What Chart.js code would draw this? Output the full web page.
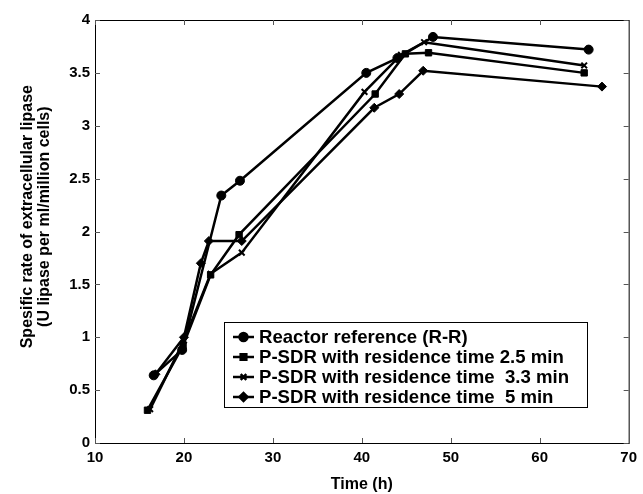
<!DOCTYPE html>
<html lang="en">
<head>
    <meta charset="UTF-8">
    <title>Lipase rate</title>
    <script src="https://cdn.jsdelivr.net/npm/chart.js"></script>
    <style>
        body { margin: 0; background: #fff; }
        #wrap { width: 643px; height: 494px; }
    </style>
</head>
<body>
    <div id="wrap"><canvas id="lipaseChart" width="643" height="494"></canvas></div>
    <script>
        // values: time (h) and specific rate
        const rrTime = [16.6, 19.8, 24.2, 26.3, 40.5, 44.0, 48.0, 65.5];
        const rrRate = [0.64, 0.88, 2.34, 2.48, 3.50, 3.64, 3.84, 3.72];

        const sdr25Time = [15.9, 19.9, 23.0, 26.2, 41.5, 44.9, 47.5, 65.0];
        const sdr25Rate = [0.31, 0.92, 1.59, 1.97, 3.30, 3.68, 3.69, 3.50];

        const sdr33Time = [16.2, 20.0, 23.0, 26.5, 40.3, 44.4, 47.0, 65.0];
        const sdr33Rate = [0.32, 0.97, 1.60, 1.80, 3.32, 3.67, 3.79, 3.57];

        const sdr5Time = [16.8, 20.0, 21.9, 22.8, 26.5, 41.4, 44.2, 46.9, 67.0];
        const sdr5Rate = [0.65, 1.00, 1.70, 1.91, 1.91, 3.17, 3.30, 3.52, 3.37];

        const seriesLabels = [
            "Reactor reference (R-R)",
            "P-SDR with residence time 2.5 min",
            "P-SDR with residence time  3.3 min",
            "P-SDR with residence time  5 min"
        ];
        const seriesMarkers = ["circle", "rect", "crossRot", "rectRot"];

        const xTicks = [10, 20, 30, 40, 50, 60, 70];
        const yTicks = [0, 0.5, 1, 1.5, 2, 2.5, 3, 3.5, 4];
        const yTitle = ["Spesific rate of extracellular lipase", "(U lipase per ml/million cells)"];

        const FONT = "'Liberation Sans', Arial, sans-serif";

        function pts(xs, ys) {
            return xs.map((x, i) => ({ x: x, y: ys[i] }));
        }

        const allSeries = [
            pts(rrTime, rrRate),
            pts(sdr25Time, sdr25Rate),
            pts(sdr33Time, sdr33Rate),
            pts(sdr5Time, sdr5Rate)
        ];

        const datasets = allSeries.map((d, i) => ({
            label: seriesLabels[i],
            data: d,
            borderColor: "#000",
            backgroundColor: "#000",
            borderWidth: 2.5,
            pointStyle: seriesMarkers[i],
            pointRadius: seriesMarkers[i] === "crossRot" ? 4 : 4.5,
            pointBorderWidth: seriesMarkers[i] === "crossRot" ? 2 : 1,
            tension: 0
        }));

        // box, inward ticks, y title and legend, matlab style
        const framePlugin = {
            id: "frame",
            afterDraw(chart) {
                const ctx = chart.ctx;
                const a = chart.chartArea;
                const xs = chart.scales.x, ys = chart.scales.y;
                ctx.save();
                ctx.strokeStyle = "#000";
                ctx.lineWidth = 1;
                ctx.strokeRect(a.left + 0.5, a.top + 0.5, a.right - a.left, a.bottom - a.top);
                ctx.strokeStyle = "#555";
                ctx.beginPath();
                xTicks.forEach(t => {
                    const px = Math.round(xs.getPixelForValue(t)) + 0.5;
                    ctx.moveTo(px, a.bottom); ctx.lineTo(px, a.bottom - 5);
                    ctx.moveTo(px, a.top); ctx.lineTo(px, a.top + 5);
                });
                yTicks.forEach(t => {
                    const py = Math.round(ys.getPixelForValue(t)) + 0.5;
                    ctx.moveTo(a.left, py); ctx.lineTo(a.left + 5, py);
                    ctx.moveTo(a.right, py); ctx.lineTo(a.right - 5, py);
                });
                ctx.stroke();

                // y title, sits a little above the middle like the original
                ctx.save();
                ctx.translate(0, ys.getPixelForValue(2.14));
                ctx.rotate(-Math.PI / 2);
                ctx.fillStyle = "#000";
                ctx.font = "bold 16px " + FONT;
                ctx.textAlign = "center";
                ctx.textBaseline = "middle";
                ctx.fillText(yTitle[0], 0, 28);
                ctx.fillText(yTitle[1], 0, 45);
                ctx.restore();

                // legend
                const lx = a.left + 129, ly = a.top + 302, lw = 363, lh = 85;
                ctx.fillStyle = "#fff";
                ctx.fillRect(lx, ly, lw, lh);
                ctx.strokeStyle = "#000";
                ctx.lineWidth = 1;
                ctx.strokeRect(lx + 0.5, ly + 0.5, lw, lh);
                ctx.font = "bold 18.6px " + FONT;
                ctx.textBaseline = "middle";
                seriesLabels.forEach((lab, i) => {
                    const cy = ly + 15 + i * 20;
                    ctx.strokeStyle = "#000";
                    ctx.fillStyle = "#000";
                    ctx.lineWidth = 2.5;
                    ctx.beginPath();
                    ctx.moveTo(lx + 9, cy); ctx.lineTo(lx + 30, cy);
                    ctx.stroke();
                    Chart.helpers.drawPoint(ctx, {
                        pointStyle: seriesMarkers[i],
                        radius: 4,
                        rotation: 0,
                        borderWidth: seriesMarkers[i] === "crossRot" ? 2 : 1
                    }, lx + 19.5, cy);
                    ctx.fillText(lab, lx + 35, cy + 1);
                });
                ctx.restore();
            }
        };

        new Chart(document.getElementById("lipaseChart").getContext("2d"), {
            type: "line",
            data: { datasets: datasets },
            options: {
                responsive: false,
                animation: false,
                layout: { padding: { top: 20, right: 12, left: 0, bottom: 0 } },
                plugins: { legend: { display: false }, tooltip: { enabled: false } },
                scales: {
                    x: {
                        type: "linear",
                        min: 10,
                        max: 70,
                        afterBuildTicks: s => { s.ticks = xTicks.map(v => ({ value: v })); },
                        afterFit: s => { s.height = 51; },
                        grid: { display: false, drawTicks: false },
                        border: { display: false },
                        ticks: {
                            color: "#000",
                            padding: 6,
                            font: { family: FONT, size: 15, weight: "bold" },
                            callback: v => String(v)
                        },
                        title: {
                            display: true,
                            text: "Time (h)",
                            color: "#000",
                            padding: { top: 2, bottom: 0 },
                            font: { family: FONT, size: 16, weight: "bold" }
                        }
                    },
                    y: {
                        min: 0,
                        max: 4,
                        afterBuildTicks: s => { s.ticks = yTicks.map(v => ({ value: v })); },
                        afterFit: s => { s.width = 95; },
                        grid: { display: false, drawTicks: false },
                        border: { display: false },
                        ticks: {
                            color: "#000",
                            padding: 5,
                            font: { family: FONT, size: 15, weight: "bold" },
                            callback: v => String(v)
                        },
                        title: { display: false }
                    }
                }
            },
            plugins: [framePlugin]
        });
    </script>
</body>
</html>
